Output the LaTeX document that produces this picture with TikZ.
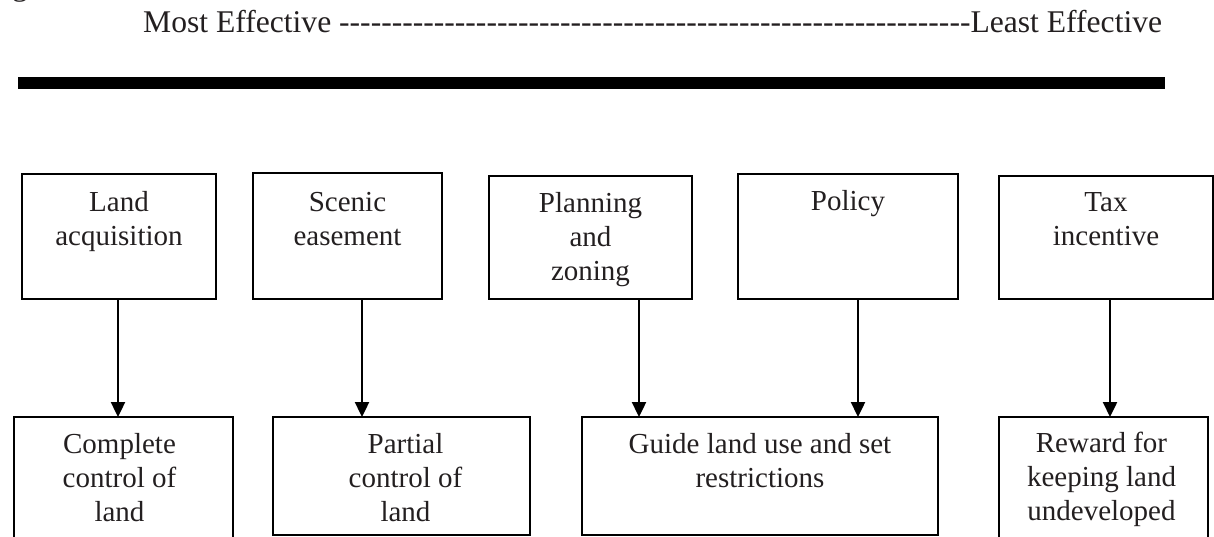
\documentclass[tikz,border=0pt]{standalone}
\usepackage{fontspec}
\setmainfont{Liberation Serif}
\usetikzlibrary{arrows.meta}
\definecolor{ink}{HTML}{231F20}
\newcount\hycount
\newcommand\hyrun[1]{\hycount=#1\relax\loop\ifnum\hycount>0 -\kern0pt\advance\hycount by -1 \repeat}
\begin{document}
\begin{tikzpicture}[x=1pt,y=-1pt,
  box/.style={draw=black, line width=2pt, inner sep=0pt, outer sep=0pt, rectangle},
  txt/.style={anchor=base, align=center, inner sep=0pt, text=ink, font=\fontsize{29}{34}\selectfont},
  arr/.style={draw=black, line width=2.4pt, -{Triangle[length=15pt,width=14pt]}},
  hdr/.style={anchor=base west, inner sep=0pt, text=ink, font=\fontsize{31.6}{38}\selectfont}]
\useasboundingbox (0,0) rectangle (1214,537);
\clip (0,0) rectangle (1214,537);
% fragment of text cut at the top edge
\node[hdr] (gfrag) at (12,-4) {g};
% header
\node[hdr] (head) at (143,33) {Most Effective \hyrun{60}Least Effective};
\fill[black] (18,77) rectangle (1165,89);
% top row
\node[box, minimum width=194pt, minimum height=125pt] (t1) at (119,236.5) {};
\node[box, minimum width=189pt, minimum height=126pt] (t2) at (347.5,236) {};
\node[box, minimum width=203pt, minimum height=123pt] (t3) at (590.5,237.5) {};
\node[box, minimum width=220pt, minimum height=125pt] (t4) at (848,236.5) {};
\node[box, minimum width=214pt, minimum height=123pt] (t5) at (1106,237.5) {};
\node[txt] (t1x) at ([yshift=-71pt]t1.north) {Land\\acquisition};
\node[txt] (t2x) at ([yshift=-72pt]t2.north) {Scenic\\easement};
\node[txt] (t3x) at ([yshift=-104pt]t3.north) {Planning\\and\\zoning};
\node[txt] (t4x) at ([yshift=-37pt]t4.north) {Policy};
\node[txt] (t5x) at ([yshift=-70pt]t5.north) {Tax\\incentive};
% bottom row
\node[box, minimum width=219pt, minimum height=128pt] (b1) at (123.5,481) {};
\node[box, minimum width=257pt, minimum height=118pt] (b2) at (401.5,476) {};
\node[box, minimum width=356pt, minimum height=118pt] (b3) at (760,476) {};
\node[box, minimum width=209pt, minimum height=128pt] (b4) at (1103.5,481) {};
\node[txt] (b1x) at ([xshift=-4pt,yshift=-104pt]b1.north) {Complete\\control of\\land};
\node[txt] (b2x) at ([xshift=4pt,yshift=-104pt]b2.north) {Partial\\control of\\land};
\node[txt] (b3x) at ([yshift=-70pt]b3.north) {Guide land use and set\\restrictions};
\node[txt] (b4x) at ([xshift=-2pt,yshift=-103pt]b4.north) {Reward for\\keeping land\\undeveloped};
% arrows
\draw[arr] (t1.south -| 118,0) -- (b1.north -| 118,0);
\draw[arr] (t2.south -| 362,0) -- (b2.north -| 362,0);
\draw[arr] (t3.south -| 639,0) -- (b3.north -| 639,0);
\draw[arr] (t4.south -| 858,0) -- (b3.north -| 858,0);
\draw[arr] (t5.south -| 1110,0) -- (b4.north -| 1110,0);
\end{tikzpicture}
\end{document}
